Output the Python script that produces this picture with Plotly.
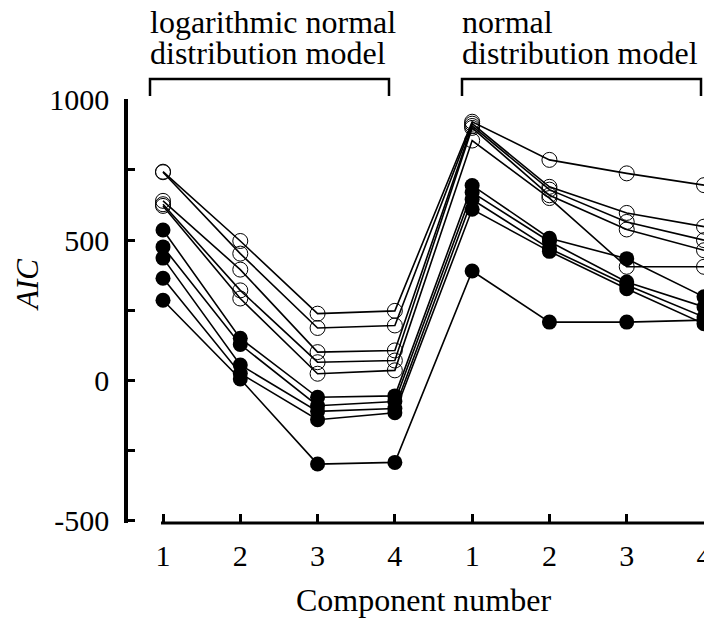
import plotly.graph_objects as go

# x positions: lognormal components 1-4 then normal components 1-4
x_pos = [1, 2, 3, 4, 5, 6, 7, 8]
tick_labels = ["1", "2", "3", "4", "1", "2", "3", "4"]

# open-circle series (AIC values)
open_a = [744, 497, 238, 248, 922, 786, 738, 696]
open_b = [742, 452, 187, 196, 915, 690, 597, 548]
open_c = [640, 395, 101, 107, 907, 680, 565, 500]
open_d = [628, 321, 65, 71, 900, 660, 538, 464]
open_e = [622, 292, 24, 36, 855, 650, 405, 405]

# filled-circle series (AIC values)
fill_a = [536, 150, -60, -55, 695, 507, 434, 298]
fill_b = [476, 128, -90, -75, 670, 495, 351, 262]
fill_c = [436, 55, -110, -100, 645, 470, 340, 226]
fill_d = [364, 25, -140, -115, 610, 460, 327, 202]
fill_e = [286, 5, -298, -292, 390, 208, 208, 215]

open_series = [open_a, open_b, open_c, open_d, open_e]
fill_series = [fill_a, fill_b, fill_c, fill_d, fill_e]

y_tickvals = [-500, -250, 0, 250, 500, 750, 1000]
y_ticktext = ["-500", "", "0", "", "500", "", "1000"]

FONT = "Liberation Serif, Times New Roman, Times, serif"

fig = go.Figure()

for s in open_series + fill_series:
    fig.add_trace(go.Scatter(x=x_pos, y=s, mode="lines",
                             line=dict(color="black", width=1.6),
                             hoverinfo="skip", showlegend=False))
for s in open_series:
    fig.add_trace(go.Scatter(x=x_pos, y=s, mode="markers",
                             marker=dict(symbol="circle-open", size=15,
                                         color="black", line=dict(width=1)),
                             showlegend=False))
for s in fill_series:
    fig.add_trace(go.Scatter(x=x_pos, y=s, mode="markers",
                             marker=dict(symbol="circle", size=15, color="black"),
                             showlegend=False))

W, H = 704, 625
L, R, T, B = 128, 0, 99, 102
pw = W - L - R
ph = H - T - B

def px2paperx(px):
    return (px - L) / pw

def py2papery(py):
    return 1 + (T - py) / ph

shapes = []
# brackets above the plot
for x0, x1 in [(150, 389), (462, 701)]:
    xa, xb = px2paperx(x0), px2paperx(x1)
    yt, yb = py2papery(79), py2papery(96)
    shapes.append(dict(type="path", xref="paper", yref="paper",
                       path=f"M {xa},{yb} L {xa},{yt} L {xb},{yt} L {xb},{yb}",
                       line=dict(color="black", width=2.5)))
# x-axis base line (starts near component 1)
shapes.append(dict(type="line", xref="paper", yref="paper",
                   x0=px2paperx(161), x1=1.0, y0=0, y1=0,
                   line=dict(color="black", width=3)))

def ann(text, px, py, size=32, anchor="left", angle=0):
    return dict(text=text, x=px2paperx(px), y=py2papery(py), textangle=angle,
                xref="paper", yref="paper", xanchor=anchor, yanchor="middle",
                showarrow=False, font=dict(family=FONT, size=size, color="black"))

annotations = [
    ann("logarithmic normal", 148, 22),
    ann("distribution model", 148, 53),
    ann("normal", 460, 22),
    ann("distribution model", 460, 53),
    ann("<i>AIC</i>", 27, 285, size=31, anchor="center", angle=-90),
    ann("Component number", 423, 600, anchor="center"),
]

fig.update_layout(
    width=W, height=H,
    margin=dict(l=L, r=R, t=T, b=B, pad=0),
    paper_bgcolor="white", plot_bgcolor="white",
    shapes=shapes, annotations=annotations,
    xaxis=dict(range=[0.547, 8.0], tickvals=x_pos, ticktext=tick_labels,
               ticks="inside", ticklen=9, tickwidth=3, tickcolor="black",
               showline=False, showgrid=False, zeroline=False,
               automargin=False,
               ticklabelstandoff=12, ticklabeloverflow="allow",
               tickfont=dict(family=FONT, size=30, color="black")),
    yaxis=dict(range=[-508, 1003], tickvals=y_tickvals, ticktext=y_ticktext,
               ticks="inside", ticklen=7, tickwidth=3, tickcolor="black",
               showline=True, linewidth=3.5, linecolor="black",
               showgrid=False, zeroline=False, automargin=False,
               ticklabelstandoff=9,
               tickfont=dict(family=FONT, size=30, color="black")),
)

fig.write_html("out.html")
